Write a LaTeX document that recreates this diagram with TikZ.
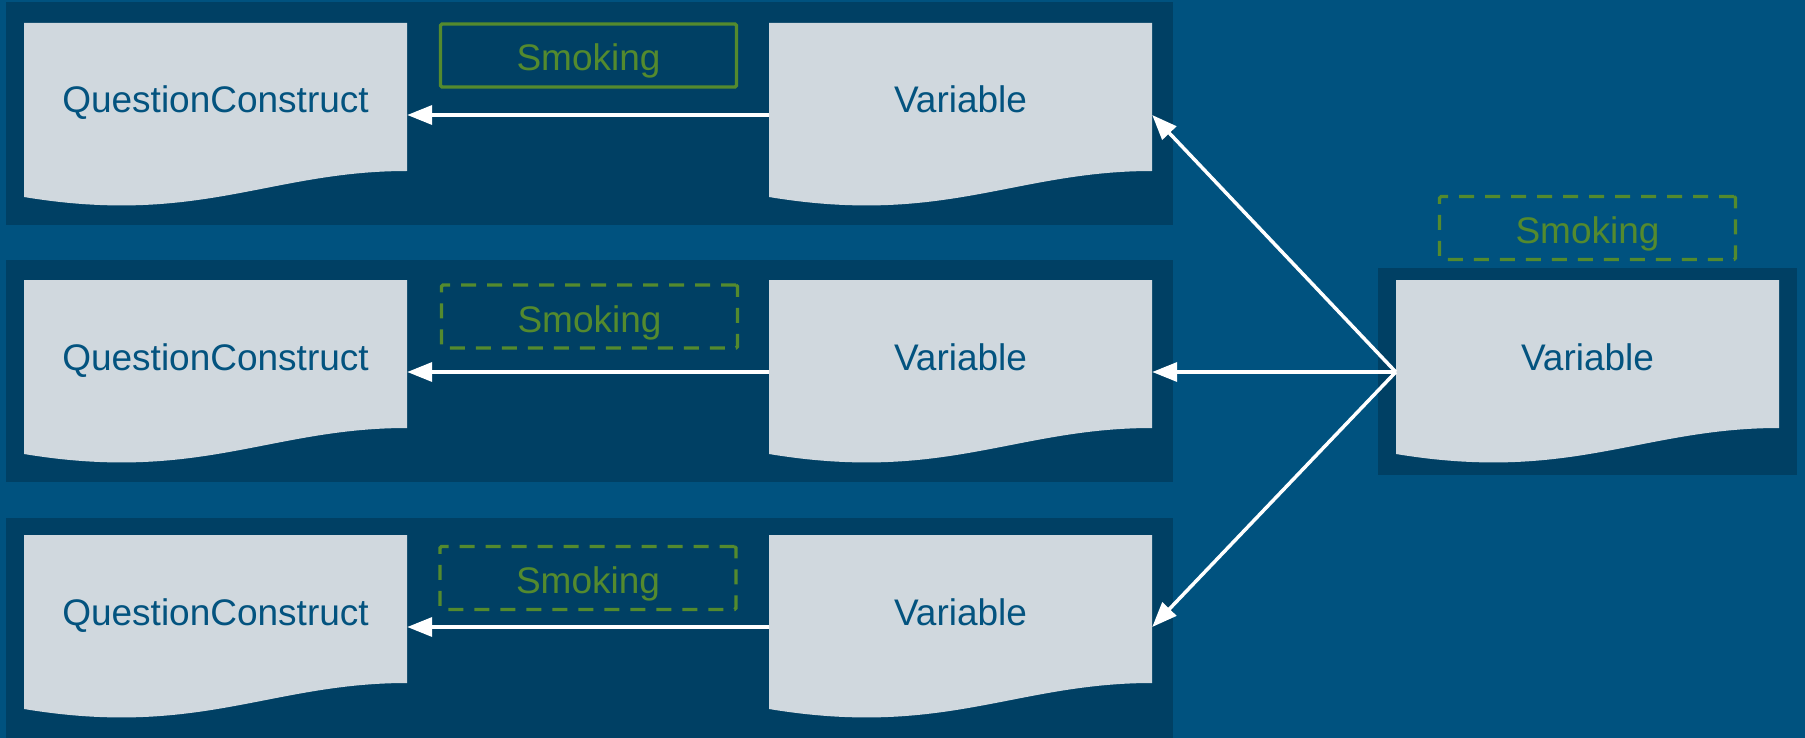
\documentclass[tikz,border=0pt]{standalone}
\usepackage{fontspec}
\setmainfont{Liberation Sans}
\usetikzlibrary{arrows.meta}

\definecolor{bg}{HTML}{00527F}
\definecolor{panel}{HTML}{004064}
\definecolor{paper}{HTML}{D0D8DE}
\definecolor{ink}{HTML}{03537F}
\definecolor{leaf}{HTML}{548A2E}

% document-shaped node: name, left x, top y, text
\newcommand\docshape[4]{%
  \begin{scope}[shift={(#2,#3)}]
    \fill[paper] (0,0) -- (383,0) -- (383,148)
      .. controls (246,148) and (175,203) .. (0,174) -- cycle;
    \node[doctext] (#1t) at (191.5,78) {#4};
    \node[docframe] (#1) at (191.5,92) {};
  \end{scope}}

\begin{document}
\begin{tikzpicture}[x=1pt,y=-1pt,
  panelbox/.style={fill=panel},
  docframe/.style={rectangle, inner sep=0pt, minimum width=383pt, minimum height=184pt},
  doctext/.style={text=ink, inner sep=0pt, text height=24pt, text depth=0pt,
    font=\fontsize{37}{44}\selectfont},
  tagbox/.style={draw=leaf, line width=3.2pt, rounded corners=1.5pt, text=leaf,
    inner sep=0pt, minimum width=296pt, minimum height=63pt,
    text height=31pt, text depth=0pt,
    font=\fontsize{37}{44}\selectfont},
  tagdash/.style={tagbox, dash pattern=on 15pt off 11pt},
  conn/.style={white, line width=3.5pt, -{Triangle[length=25pt,width=19pt]}}
]
\useasboundingbox (0,0) rectangle (1805,738);
\fill[bg] (0,0) rectangle (1805,738);

% panels
\fill[panelbox] (6,2) rectangle (1173,225);
\fill[panelbox] (6,260) rectangle (1173,482);
\fill[panelbox] (6,518) rectangle (1173,738);
\fill[panelbox] (1378,268) rectangle (1797,475);

% documents
\docshape{qa}{24}{23}{QuestionConstruct}
\docshape{va}{769}{23}{Variable}
\docshape{qb}{24}{280}{QuestionConstruct}
\docshape{vb}{769}{280}{Variable}
\docshape{qc}{24}{535}{QuestionConstruct}
\docshape{vc}{769}{535}{Variable}
\docshape{vr}{1396}{280}{Variable}

% tags
\node[tagbox]  (ta) at (588.5,55.5) {Smoking};
\node[tagdash] (tb) at (589.5,316.5) {Smoking};
\node[tagdash] (tc) at (588,578) {Smoking};
\node[tagdash] (tr) at (1587.5,228) {Smoking};

% connectors
\draw[conn] (va.west) -- (qa.east);
\draw[conn] (vb.west) -- (qb.east);
\draw[conn] (vc.west) -- (qc.east);
\draw[conn] (vr.west) -- (va.east);
\draw[conn] (vr.west) -- (vb.east);
\draw[conn] (vr.west) -- (vc.east);
\end{tikzpicture}
\end{document}
